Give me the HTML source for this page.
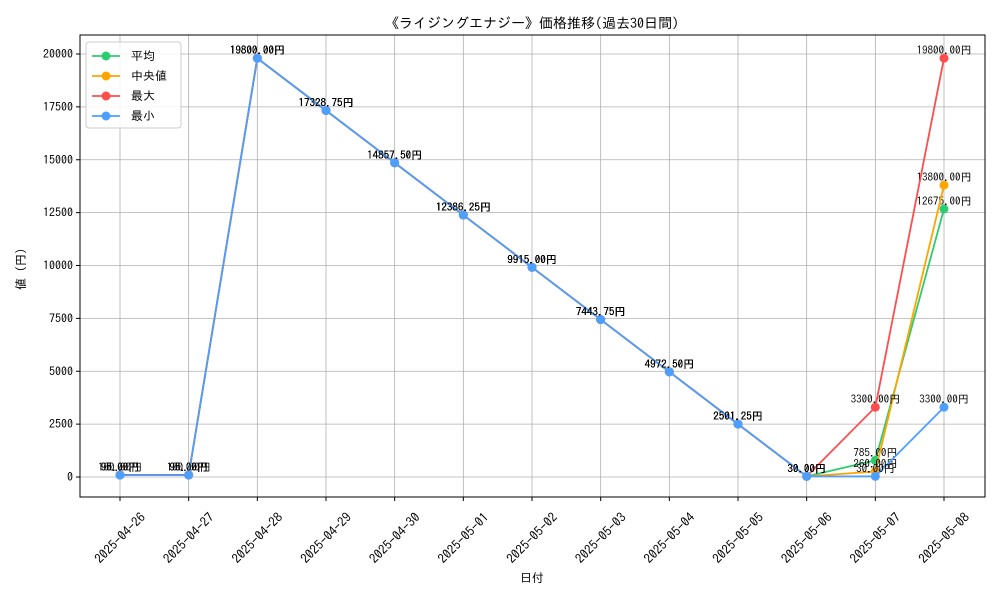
<!DOCTYPE html>
<html><head><meta charset="utf-8"><style>
body{margin:0;background:#fff;}
svg{font-family:"IPAGothic","Liberation Sans","Noto Sans CJK JP",sans-serif;}
</style></head><body>
<svg id="chart" width="1000" height="600"></svg>
<script>
const categories=["2025-04-26","2025-04-27","2025-04-28","2025-04-29","2025-04-30","2025-05-01","2025-05-02","2025-05-03","2025-05-04","2025-05-05","2025-05-06","2025-05-07","2025-05-08"];
const avgValues=[95,95,19800,17328.75,14857.5,12386.25,9915,7443.75,4972.5,2501.25,30,785,12675];
const medianValues=[95,95,19800,17328.75,14857.5,12386.25,9915,7443.75,4972.5,2501.25,30,260,13800];
const maxValues=[100,100,19800,17328.75,14857.5,12386.25,9915,7443.75,4972.5,2501.25,30,3300,19800];
const minValues=[90,90,19800,17328.75,14857.5,12386.25,9915,7443.75,4972.5,2501.25,30,30,3300];
const yTicks=[0,2500,5000,7500,10000,12500,15000,17500,20000];
const seriesNames=["平均","中央値","最大","最小"];
const seriesColors=["#2ecc71","#ffa500","#ff4d4d","#4d9fff"];
const seriesSlugs=["avg","median","max","min"];

const svg=document.getElementById('chart');
const NS="http://www.w3.org/2000/svg";
const L=80,R=985,T=35,B=497;
const x=i=>120+i*(944-120)/(categories.length-1);
const y=v=>477-v*(477-54)/20000;
function mk(tag,attrs,parent){const e=document.createElementNS(NS,tag);for(const k in attrs)e.setAttribute(k,attrs[k]);(parent||svg).appendChild(e);return e;}

const grid=mk('g',{});


categories.forEach((c,i)=>{mk('line',{x1:x(i),x2:x(i),y1:T,y2:B,stroke:'#b0b0b0','stroke-width':0.8},grid);});
yTicks.forEach(v=>{mk('line',{x1:L,x2:R,y1:y(v),y2:y(v),stroke:'#b0b0b0','stroke-width':0.8},grid);});
const frame=mk('rect',{x:L,y:T,width:R-L,height:B-T,fill:'none',stroke:'#000','stroke-width':1});



const yax=mk('g',{});


yTicks.forEach(v=>{
  mk('line',{x1:L-4,x2:L,y1:y(v),y2:y(v),stroke:'#000'},yax);
  const t=mk('text',{x:L-7,y:y(v)+4,'text-anchor':'end','font-size':12},yax);t.textContent=v;
});
const xax=mk('g',{});


categories.forEach((c,i)=>{
  mk('line',{x1:x(i),x2:x(i),y1:B,y2:B+4,stroke:'#000'},xax);
  const cy=538;
  const t=mk('text',{x:x(i),y:cy,'text-anchor':'middle','dominant-baseline':'central','font-size':13,transform:`rotate(-45 ${x(i)} ${cy})`},xax);t.textContent=c;
});
const xt=mk('text',{x:532,y:582,'text-anchor':'middle','font-size':12});xt.textContent='日付';


const yt=mk('text',{x:25,y:266,'text-anchor':'middle','font-size':12,transform:'rotate(-90 25 266)'});yt.textContent='値（円）';


const title=mk('text',{x:532,y:28,'text-anchor':'middle','font-size':14});title.textContent='《ライジングエナジー》価格推移(過去30日間)';



const all=[avgValues,medianValues,maxValues,minValues];
all.forEach((vals,si)=>{
  const g=mk('g',{});
  
  
  mk('polyline',{points:vals.map((v,i)=>x(i)+','+y(v)).join(' '),fill:'none',stroke:seriesColors[si],'stroke-width':1.8},g);
  vals.forEach((v,i)=>{
    const c=mk('circle',{cx:x(i),cy:y(v),r:4.5,fill:seriesColors[si]},g);
    
    
    const t=mk('text',{x:x(i),y:y(v)-4,'text-anchor':'middle','font-size':11},g);
    t.textContent=v.toFixed(2)+'円';
  });
});

const lg=mk('g',{});


mk('rect',{x:86,y:42,width:95,height:86,fill:'#fff','fill-opacity':0.85,stroke:'#ccc',rx:3},lg);
seriesNames.forEach((n,i)=>{
  const e=mk('g',{},lg);
  
  
  const yy=56+i*20;
  mk('line',{x1:92,x2:120,y1:yy,y2:yy,stroke:seriesColors[i],'stroke-width':1.8},e);
  mk('circle',{cx:106,cy:yy,r:4.5,fill:seriesColors[i]},e);
  const t=mk('text',{x:131,y:yy+4,'font-size':12},e);t.textContent=n;
});
</script>
</body></html>
